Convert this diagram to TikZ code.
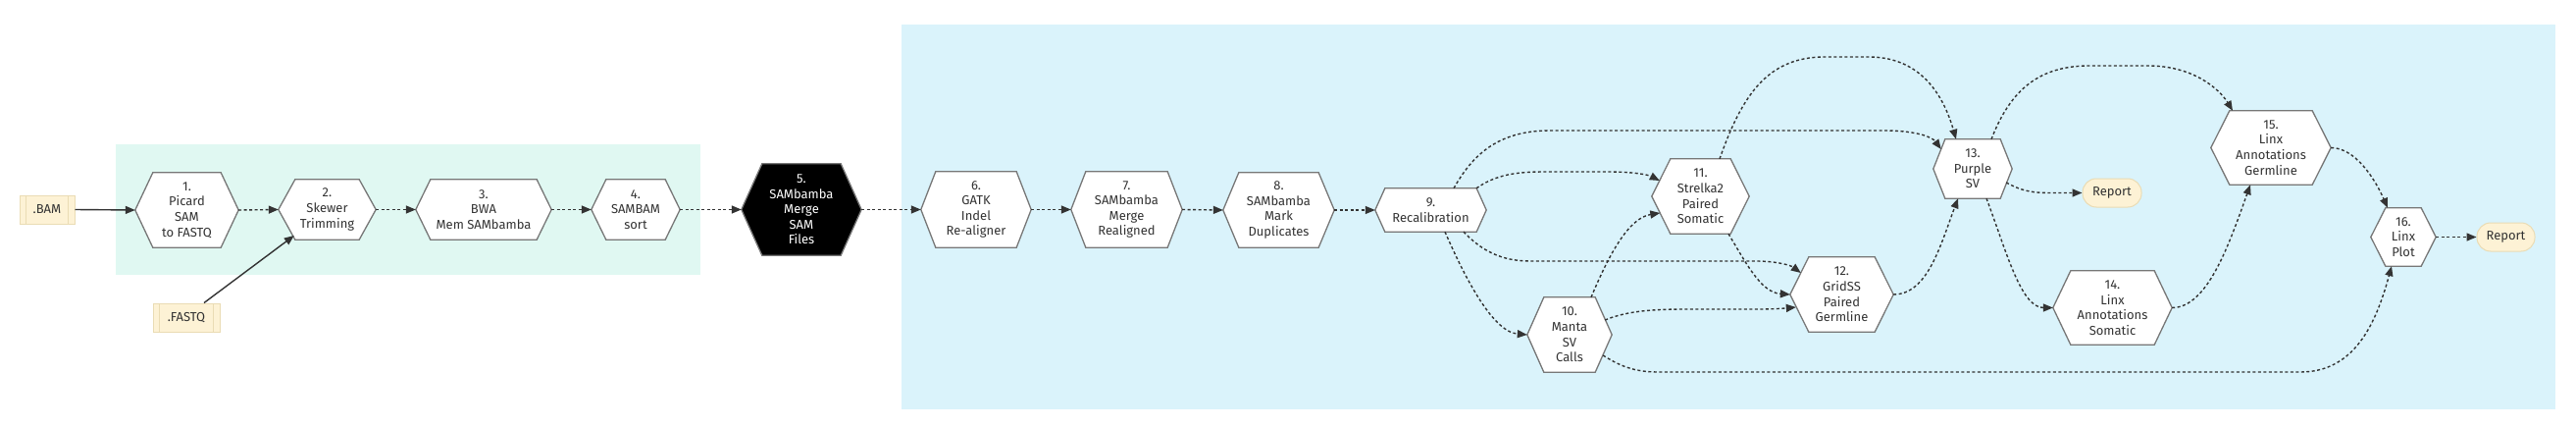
\documentclass[tikz,border=0pt]{standalone}
\usepackage{fontspec}
\setmainfont{Fira Sans}
\usetikzlibrary{arrows.meta}
\definecolor{txt}{HTML}{333333}
\definecolor{hexgray}{HTML}{777777}
\definecolor{mint}{HTML}{E0F8F2}
\definecolor{skyb}{HTML}{DAF3FB}
\definecolor{cream}{HTML}{FDF2D5}
\definecolor{tan}{HTML}{EADCB4}
\definecolor{edgec}{HTML}{333333}
\pgfdeclarelayer{back}
\pgfdeclarelayer{mid}
\pgfsetlayers{back,mid,main}
\newcommand{\drawhexagon}[3][hexline]{%
  \begin{pgfonlayer}{mid}
  \draw[#1] (#2.west) -- ([xshift=#3pt]#2.north west) -- ([xshift=-#3pt]#2.north east)
    -- (#2.east) -- ([xshift=-#3pt]#2.south east) -- ([xshift=#3pt]#2.south west) -- cycle;
  \end{pgfonlayer}}
\begin{document}
\begin{tikzpicture}[x=1pt,y=-1pt,
  hexbox/.style={shape=rectangle, inner sep=0pt, text=txt, align=center,
    font=\fontsize{13}{15.6}\selectfont},
  hexline/.style={draw=hexgray, line width=1.3pt, fill=white, line join=miter},
  blackhex/.style={draw=hexgray, line width=1.3pt, fill=black, line join=miter},
  inbox/.style={shape=rectangle, inner sep=0pt, draw=tan, fill=cream, line width=1pt,
    text=txt, font=\fontsize{13}{15.6}\selectfont},
  inline/.style={draw=tan, line width=1pt},
  report/.style={shape=rectangle, inner sep=0pt, draw=tan, fill=cream, line width=1pt,
    rounded corners=14pt, text=txt, font=\fontsize{13}{15.6}\selectfont,
    minimum height=29pt},
  flow/.style={draw=edgec, line width=1.4pt, dash pattern=on 3pt off 2.5pt,
    -{Triangle[length=10pt,width=8pt]}},
  solidflow/.style={draw=edgec, line width=1.4pt, -{Triangle[length=10pt,width=8pt]}}
]
\useasboundingbox (0,0) rectangle (2626,434);
\begin{pgfonlayer}{back}
  \fill[mint] (118,147) rectangle (714,280);
  \fill[skyb] (919,25) rectangle (2605,417);
\end{pgfonlayer}

% input boxes
\node[inbox, minimum width=56pt, minimum height=29pt] (bam) at (48,213.5) {.BAM};
\draw[inline] ([xshift=7pt]bam.north west) -- ([xshift=7pt]bam.south west);
\draw[inline] ([xshift=-7pt]bam.north east) -- ([xshift=-7pt]bam.south east);
\node[inbox, minimum width=68pt, minimum height=29pt] (fastq) at (190,323.5) {.FASTQ};
\draw[inline] ([xshift=7pt]fastq.north west) -- ([xshift=7pt]fastq.south west);
\draw[inline] ([xshift=-7pt]fastq.north east) -- ([xshift=-7pt]fastq.south east);

% hexagon nodes
\node[hexbox, minimum width=105pt, minimum height=76pt] (n1) at (190.5,214) {1.\\Picard\\SAM\\to FASTQ};
\drawhexagon{n1}{18}
\node[hexbox, minimum width=99pt, minimum height=61pt] (n2) at (333.5,213.5) {2.\\Skewer\\Trimming};
\drawhexagon{n2}{17}
\node[hexbox, minimum width=138pt, minimum height=61pt] (n3) at (493,213.5) {3.\\BWA\\Mem SAMbamba};
\drawhexagon{n3}{15}
\node[hexbox, minimum width=90pt, minimum height=61pt] (n4) at (648,213.5) {4.\\SAMBAM\\sort};
\drawhexagon{n4}{15}
\node[hexbox, text=white, minimum width=122pt, minimum height=93pt] (n5) at (817,213.5) {5.\\SAMbamba\\Merge\\SAM\\Files};
\drawhexagon[blackhex]{n5}{21}
\node[hexbox, minimum width=112pt, minimum height=77pt] (n6) at (995,213.5) {6.\\GATK\\Indel\\Re-aligner};
\drawhexagon{n6}{15}
\node[hexbox, minimum width=113pt, minimum height=77pt] (n7) at (1148.5,213.5) {7.\\SAMbamba\\Merge\\Realigned};
\drawhexagon{n7}{15}
\node[hexbox, minimum width=113pt, minimum height=76pt] (n8) at (1303.5,214) {8.\\SAMbamba\\Mark\\Duplicates};
\drawhexagon{n8}{16}
\node[hexbox, minimum width=113pt, minimum height=44pt] (n9) at (1458.5,214) {9.\\Recalibration};
\drawhexagon{n9}{10}
\node[hexbox, minimum width=86pt, minimum height=76pt] (n10) at (1600,341) {10.\\Manta\\SV\\Calls};
\drawhexagon{n10}{17}
\node[hexbox, minimum width=99pt, minimum height=76pt] (n11) at (1733.5,200) {11.\\Strelka2\\Paired\\Somatic};
\drawhexagon{n11}{19}
\node[hexbox, minimum width=105pt, minimum height=76pt] (n12) at (1877.5,300) {12.\\GridSS\\Paired\\Germline};
\drawhexagon{n12}{19}
\node[hexbox, minimum width=80pt, minimum height=60pt] (n13) at (2011,172) {13.\\Purple\\SV};
\drawhexagon{n13}{12}
\node[hexbox, minimum width=121pt, minimum height=75pt] (n14) at (2153.5,313.5) {14.\\Linx\\Annotations\\Somatic};
\drawhexagon{n14}{18}
\node[hexbox, minimum width=122pt, minimum height=75pt] (n15) at (2315,150.5) {15.\\Linx\\Annotations\\Germline};
\drawhexagon{n15}{19}
\node[hexbox, minimum width=66pt, minimum height=59pt] (n16) at (2450,241.5) {16.\\Linx\\Plot};
\drawhexagon{n16}{15}

% reports
\node[report, minimum width=60pt] (rep1) at (2153,196.5) {Report};
\node[report, minimum width=59pt] (rep2) at (2554.5,241.5) {Report};

% straight chain
\draw[solidflow] (bam.east) -- (n1.west);
\draw[solidflow] ([xshift=18pt]fastq.north) -- ([xshift=16pt,yshift=-26.5pt]n2.west);
\draw[flow] (n1.east) -- (n2.west);
\draw[flow] (n2.east) -- (n3.west);
\draw[flow] (n3.east) -- (n4.west);
\draw[flow] (n4.east) -- (n5.west);
\draw[flow] (n5.east) -- (n6.west);
\draw[flow] (n6.east) -- (n7.west);
\draw[flow] (n7.east) -- (n8.west);
\draw[flow] (n8.east) -- (n9.west);

% branching
\draw[flow] ([xshift=23.5pt]n9.north) .. controls (1500,160) and (1525,133) .. (1580,133)
  -- (1920,133) .. controls (1955,133) and (1970,140) .. ([xshift=8pt,yshift=20pt]n13.west);
\draw[flow] ([xshift=46.5pt]n9.north) .. controls (1525,178) and (1545,175) .. (1575,175)
  -- (1640,175) .. controls (1665,175) and (1680,178) .. ([xshift=8pt,yshift=16pt]n11.west);
\draw[flow] ([xshift=33.5pt]n9.south) .. controls (1510,255) and (1530,266) .. (1560,266)
  -- (1790,266) .. controls (1810,266) and (1825,270) .. ([xshift=11pt,yshift=22pt]n12.west);
\draw[flow] ([xshift=14.5pt]n9.south) .. controls (1490,275) and (1520,338) .. (n10.west);
\draw[flow] ([xshift=22pt]n10.north) .. controls (1640,260) and (1660,222) .. ([xshift=8.5pt,yshift=-17pt]n11.west);
\draw[flow] ([xshift=-7pt,yshift=15pt]n10.east) .. controls (1660,316) and (1690,315) .. (1720,315)
  -- (1790,315) .. controls (1810,315) and (1820,314) .. ([xshift=6pt,yshift=-13pt]n12.west);
\draw[flow] ([xshift=-9pt,yshift=-21pt]n10.east) .. controls (1650,372) and (1665,379) .. (1690,379)
  -- (2345,379) .. controls (2400,379) and (2422,330) .. ([xshift=-12pt]n16.south);
\draw[flow] ([xshift=19.5pt]n11.north) .. controls (1775,100) and (1800,58) .. (1860,58)
  -- (1905,58) .. controls (1960,58) and (1982,100) .. ([xshift=-17pt]n13.north);
\draw[flow] ([xshift=28.5pt]n11.south) .. controls (1780,268) and (1795,298) .. (n12.west);
\draw[flow] (n12.east) .. controls (1965,300) and (1978,250) .. ([xshift=-15pt]n13.south);
\draw[flow] ([xshift=-6pt,yshift=-14pt]n13.east) .. controls (2060,194) and (2070,196.5) .. (2090,196.5)
  -- (rep1.west);
\draw[flow] ([xshift=14pt]n13.south) .. controls (2045,255) and (2060,313.5) .. (n14.west);
\draw[flow] ([xshift=19pt]n13.north) .. controls (2050,90) and (2080,67) .. (2130,67)
  -- (2190,67) .. controls (2235,67) and (2262,90) .. ([xshift=-39pt]n15.north);
\draw[flow] (n14.east) .. controls (2250,313.5) and (2272,250) .. ([xshift=-21pt]n15.south);
\draw[flow] (n15.east) .. controls (2400,150.5) and (2420,180) .. ([xshift=-16pt]n16.north);
\draw[flow] (n16.east) -- (rep2.west);
\end{tikzpicture}
\end{document}
